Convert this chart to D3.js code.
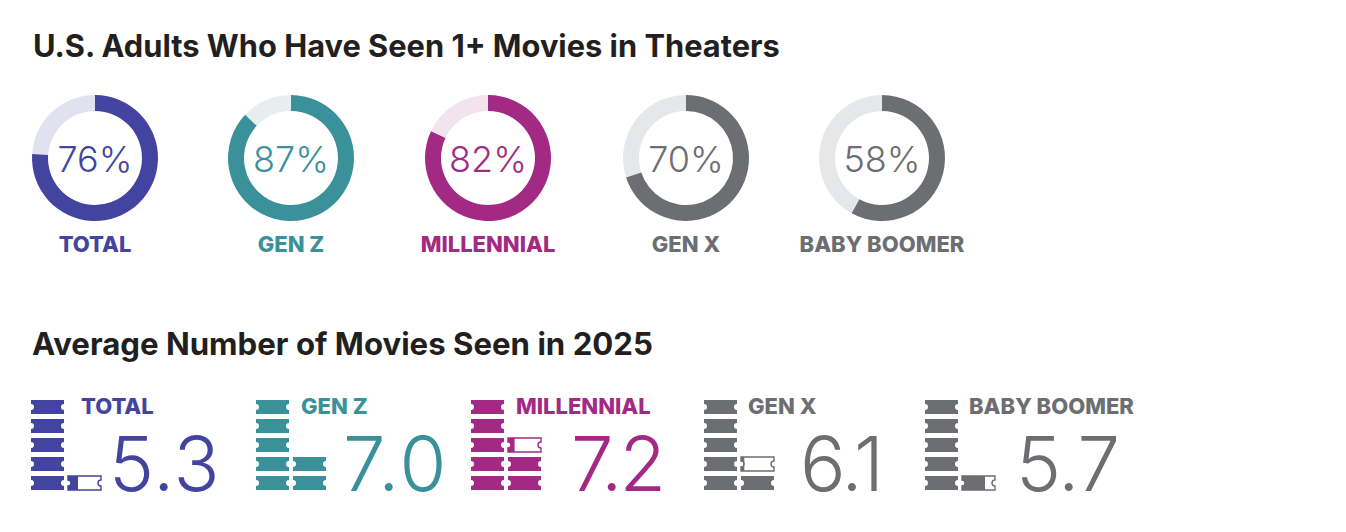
<!DOCTYPE html>
<html><head><meta charset="utf-8">
<script src="https://cdn.jsdelivr.net/npm/d3@7"></script>
<style>html,body{margin:0;padding:0;background:#fff}svg{display:block}text{font-family:Inter,Lato,sans-serif}</style>
</head><body><svg id="c" width="1346" height="532"></svg>
<script>
const categories=["TOTAL","GEN Z","MILLENNIAL","GEN X","BABY BOOMER"];
const seenShare=[76,87,82,70,58];
const avgMovies=[5.3,7.0,7.2,6.1,5.7];
const colors=["#43449f","#3a9199","#a32a84","#6d6e71","#6d6e71"];
const tracks=["#e1e1f0","#e7eeef","#f1e4ef","#e6e7e8","#e6e7e8"];
const titleTop="U.S. Adults Who Have Seen 1+ Movies in Theaters";
const titleBottom="Average Number of Movies Seen in 2025";
// layout
const donutX=[95,291,488,686,882];
const ticketX=[31,256,471,704,925];
const labelX=[81,301,516,748,969];
const numberX=[109,343,571,800,1016];
const numberSpacing=[1,2,-3,-2,-1];
const ticketW=33,ticketH=14,perColumn=5;

const svg=d3.select("#c");
const ink="#231f20";
svg.append("text").attr("x",33).attr("y",56.5).attr("font-size",30.8).attr("font-weight",700).attr("fill",ink).text(titleTop);
svg.append("text").attr("x",32).attr("y",354.5).attr("font-size",31.2).attr("font-weight",700).attr("fill",ink).text(titleBottom);

const cx=d3.scaleOrdinal().domain(categories).range(donutX);
const angle=d3.scaleLinear().domain([0,100]).range([0,2*Math.PI]);
const arc=d3.arc().innerRadius(47).outerRadius(63);
categories.forEach((c,i)=>{
  const g=svg.append("g").attr("transform",`translate(${cx(c)},158)`);
  g.append("path").attr("d",arc({startAngle:angle(seenShare[i]),endAngle:angle(100)})).attr("fill",tracks[i]);
  g.append("path").attr("d",arc({startAngle:0,endAngle:angle(seenShare[i])})).attr("fill",colors[i]);
  g.append("text").attr("text-anchor","middle").attr("y",14).attr("font-size",36).attr("font-weight",350).attr("fill",colors[i]).text(seenShare[i]+"%");
  g.append("text").attr("text-anchor","middle").attr("y",94).attr("font-size",22).attr("font-weight",800).attr("fill",colors[i]).text(c);
});

// ticket outline with a notch in each short side
function ticketPath(w,h){
  const r=3,m=h/2;
  return `M0,0H${w}V${m-r}A${r},${r} 0 0 0 ${w},${m+r}V${h}H0V${m+r}A${r},${r} 0 0 0 0,${m-r}Z`;
}
const rowY=d3.scaleLinear().domain([0,perColumn-1]).range([476,400]);
const defs=svg.append("defs");
categories.forEach((c,i)=>{
  const col=colors[i];
  const g=svg.append("g");
  const total=Math.ceil(avgMovies[i]);
  d3.range(total).forEach(k=>{
    const frac=Math.min(1,avgMovies[i]-k);
    const x=ticketX[i]+Math.floor(k/perColumn)*37, y=rowY(k%perColumn);
    const t=g.append("g").attr("transform",`translate(${x},${y})`);
    const p=ticketPath(ticketW,ticketH);
    if(frac<1){
      t.append("path").attr("d",p).attr("fill","#fff").attr("stroke",col).attr("stroke-width",1.4);
      const id=`clip${i}`;
      defs.append("clipPath").attr("id",id).append("rect").attr("x",-1).attr("y",-1).attr("width",ticketW*frac+1).attr("height",ticketH+2);
      t.append("path").attr("d",p).attr("fill",col).attr("clip-path",`url(#${id})`);
    } else {
      t.append("path").attr("d",p).attr("fill",col);
    }
  });
  svg.append("text").attr("x",labelX[i]).attr("y",414).attr("font-size",22).attr("font-weight",800).attr("fill",col).text(c);
  svg.append("text").attr("x",numberX[i]).attr("y",491).attr("font-size",76).attr("font-weight",350).attr("letter-spacing",numberSpacing[i]).attr("fill",col).text(avgMovies[i].toFixed(1));
});
</script></body></html>
